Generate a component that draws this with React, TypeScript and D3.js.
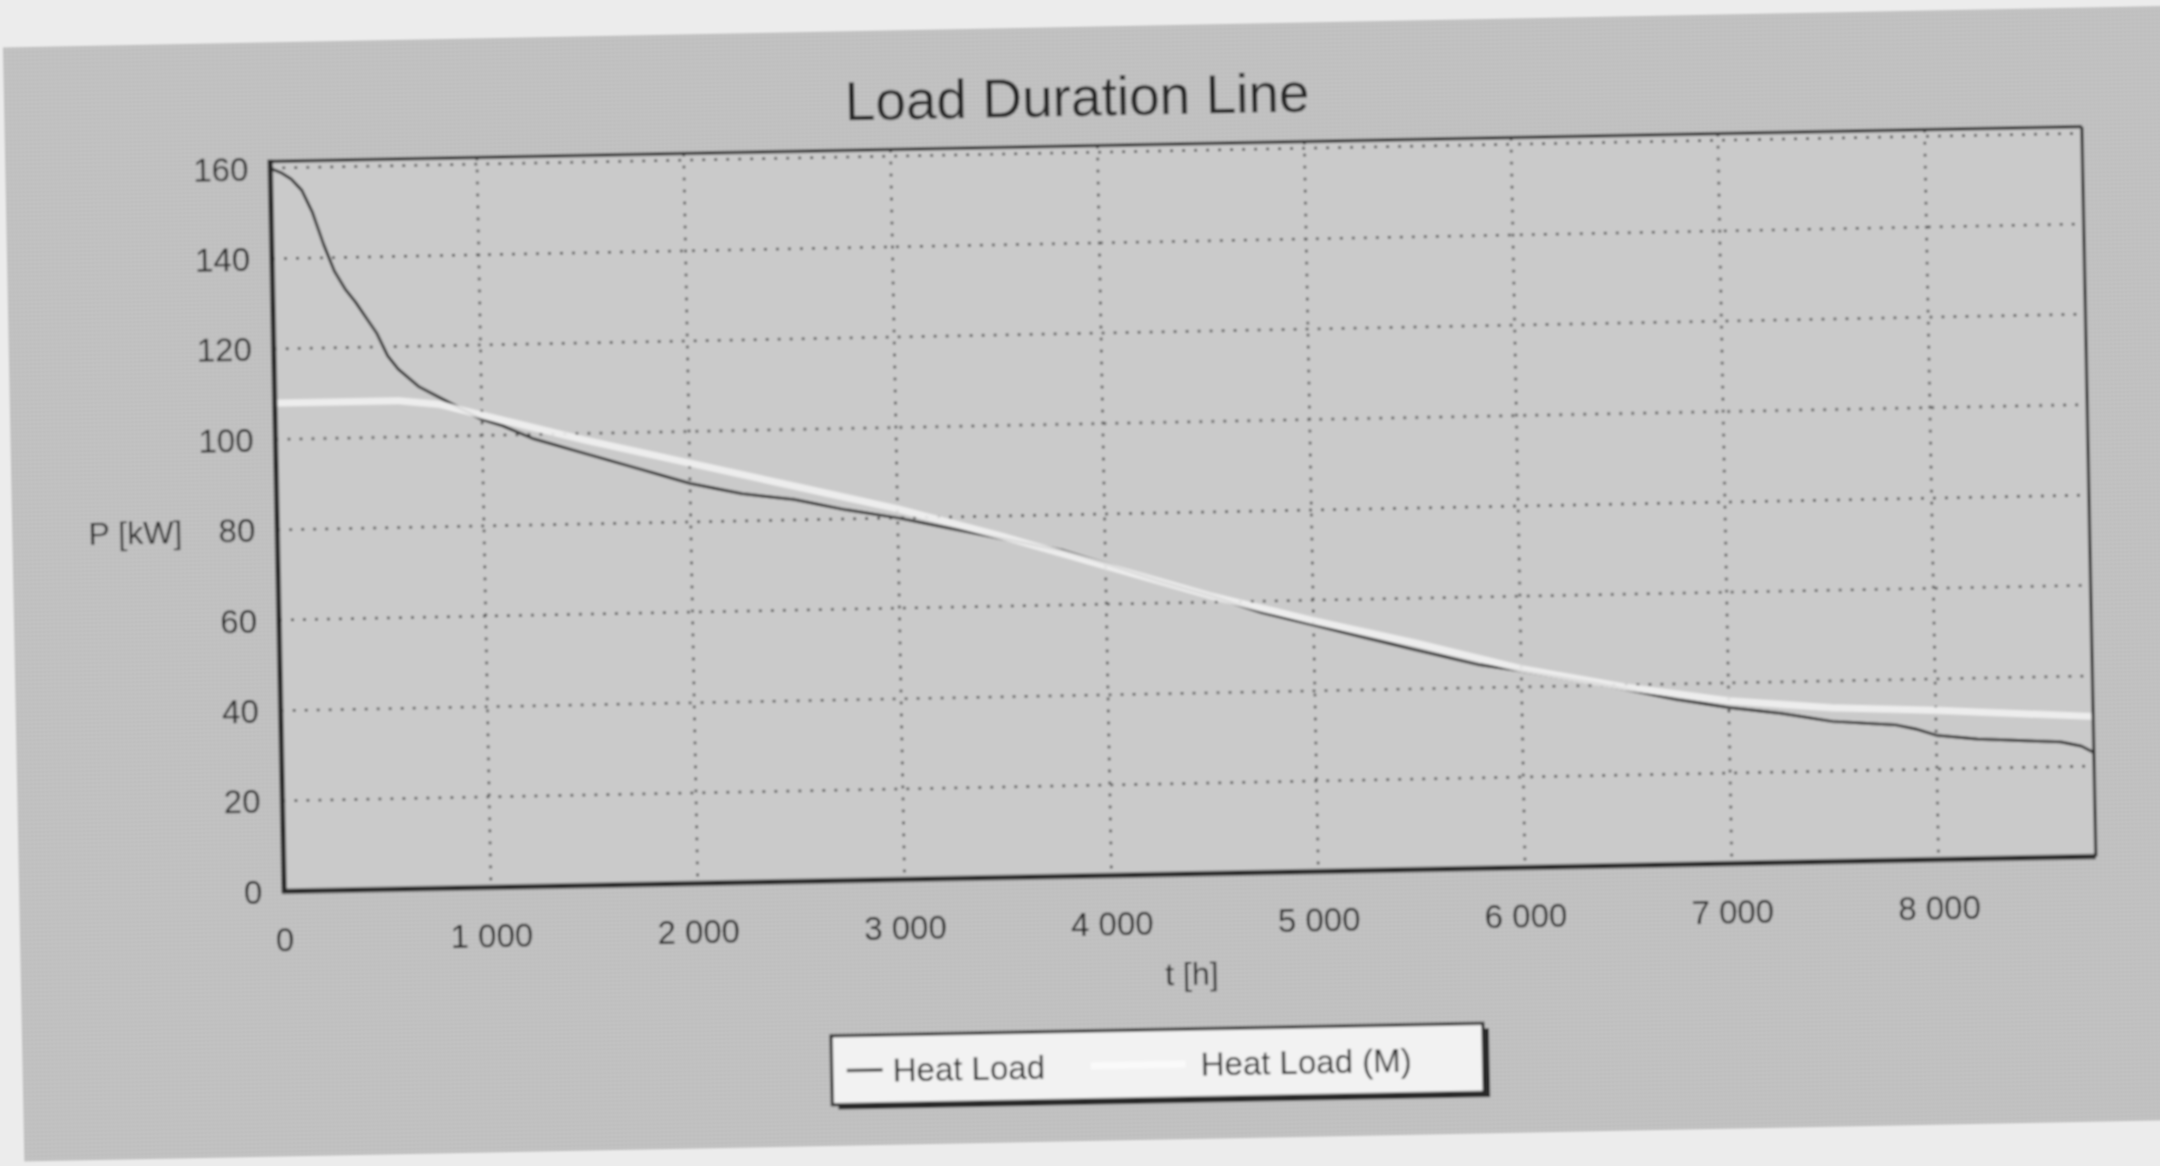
import React from 'react';
import * as d3 from 'd3';

// Heat load, sorted (duration line)
const loadHours = [0, 50, 100, 150, 200, 250, 300, 350, 400, 450, 500, 550, 600, 700, 800, 900, 1000, 1100, 1250, 1500, 1750, 2000, 2250, 2500, 2750, 3000, 3250, 3500, 3800, 4000, 4250, 4500, 4750, 5000, 5250, 5500, 5800, 6000, 6350, 6500, 6750, 7000, 7250, 7500, 7800, 7900, 8000, 8200, 8400, 8600, 8700, 8760];
const heatLoad = [160, 159, 157.5, 155, 150, 143, 137, 133, 130, 126.5, 123, 118, 115, 111, 108.5, 106, 103.5, 102, 99, 95.5, 92, 88.5, 86, 84.5, 82, 80, 77.5, 75, 72, 69, 65, 61.5, 57.5, 54.5, 51.5, 48.5, 45, 43.5, 40.5, 39, 36.5, 34.5, 33, 31, 30, 29, 27.5, 26.5, 26, 25.5, 24.5, 23];

// modelled heat load (M)
const modelHours = [0, 600, 800, 1000, 1500, 2000, 2500, 3000, 3500, 4000, 4500, 5000, 5500, 6000, 6500, 7000, 7500, 8000, 8760];
const modelLoad = [108, 108, 107, 104.5, 98.5, 93, 87.5, 82, 75.5, 68.5, 61.5, 55.5, 50, 44, 39.5, 36, 34, 33, 31];

const xTicks = [0, 1000, 2000, 3000, 4000, 5000, 6000, 7000, 8000];
const yTicks = [0, 20, 40, 60, 80, 100, 120, 140, 160];
const seriesNames = ['Heat Load', 'Heat Load (M)'];

const W = 2160, H = 1166;
const plot = { left: 277, right: 2089, top: 144, bottom: 874 };
const fmt = d3.formatLocale({ decimal: '.', thousands: ' ', grouping: [3], currency: ['', ''] }).format(',');

const App = () => {
    const x = d3.scaleLinear().domain([0, 8760]).range([plot.left, plot.right]);
    const y = d3.scaleLinear().domain([0, 161.5]).range([plot.bottom, plot.top]);
    const line = d3.line<[number, number]>().x(d => x(d[0])).y(d => y(d[1]));
    const loadPts = loadHours.map((h, i) => [h, heatLoad[i]] as [number, number]);
    const modelPts = modelHours.map((h, i) => [h, modelLoad[i]] as [number, number]);
    const ink = '#252525';
    const font = '"Liberation Sans", Arial, sans-serif';

    return (
        <svg width={W} height={H} style={{ position: 'absolute', left: 0, top: 0 }} fontFamily={font}>
            <defs>
                <pattern id="dots" width="4" height="4" patternUnits="userSpaceOnUse">
                    <circle cx="2" cy="2" r="1" fill="#000" opacity="0.1" />
                </pattern>
                <filter id="soft">
                    <feGaussianBlur stdDeviation="0.8" />
                </filter>
            </defs>
            <rect width={W} height={H} fill="#ececec" />
            <g transform={`rotate(-1.1, 1183, 509)`} filter="url(#soft)">
                <rect x={12} y={25} width={2200} height={1114} fill="#c4c4c4" />
                <rect x={12} y={25} width={2200} height={1114} fill="url(#dots)" />
                <rect x={plot.left} y={plot.top} width={plot.right - plot.left} height={plot.bottom - plot.top} fill="#cacaca" />

                {/* grid */}
                {yTicks.filter(t => t > 0).map(t =>
                    <line key={'gy' + t} x1={plot.left} x2={plot.right} y1={y(t)} y2={y(t)} stroke="#4a4a4a" strokeWidth={2.5} strokeDasharray="3 9" />
                )}
                {xTicks.filter(t => t > 0).map(t =>
                    <line key={'gx' + t} x1={x(t)} x2={x(t)} y1={plot.top} y2={plot.bottom} stroke="#4a4a4a" strokeWidth={2.5} strokeDasharray="3 9" />
                )}

                {/* series */}
                <path d={line(loadPts) ?? ''} fill="none" stroke="#303030" strokeWidth={3} strokeLinejoin="round" />
                <path d={line(modelPts) ?? ''} fill="none" stroke="#f1f1f1" strokeWidth={7} strokeLinejoin="round" opacity={0.9} />

                {/* frame */}
                <line x1={plot.left} x2={plot.right} y1={plot.top} y2={plot.top} stroke={ink} strokeWidth={3} />
                <line x1={plot.right} x2={plot.right} y1={plot.top} y2={plot.bottom} stroke={ink} strokeWidth={3} />
                <line x1={plot.left} x2={plot.left} y1={plot.top - 2} y2={plot.bottom + 2} stroke={ink} strokeWidth={5} />
                <line x1={plot.left - 2} x2={plot.right} y1={plot.bottom} y2={plot.bottom} stroke={ink} strokeWidth={5} />

                {/* ticks */}
                {yTicks.map(t =>
                    <text key={'ty' + t} x={plot.left - 22} y={y(t)} dy="0.36em" textAnchor="end" fontSize={33} fill={ink}>{t}</text>
                )}
                {xTicks.map(t =>
                    <text key={'tx' + t} x={x(t)} y={plot.bottom + 60} textAnchor="middle" fontSize={33} fill={ink}>{fmt(t)}</text>
                )}

                <text x={182} y={y(80)} dy="0.36em" textAnchor="end" fontSize={32} fill={ink}>P [kW]</text>
                <text x={(plot.left + plot.right) / 2} y={plot.bottom + 111} textAnchor="middle" fontSize={32} fill={ink}>t [h]</text>
                <text x={1085} y={114} textAnchor="middle" fontSize={55} fill={ink}>Load Duration Line</text>

                {/* legend */}
                <g>
                    <rect x={827} y={1034} width={652} height={69} fill="#2a2a2a" />
                    <rect x={821} y={1029} width={652} height={69} fill="#f2f2f2" stroke={ink} strokeWidth={3} />
                    <line x1={836} x2={872} y1={1064} y2={1064} stroke="#333" strokeWidth={3} />
                    <text x={882} y={1076} fontSize={33} fill={ink}>{seriesNames[0]}</text>
                    <line x1={1080} x2={1175} y1={1064} y2={1064} stroke="#fafafa" strokeWidth={7} />
                    <text x={1190} y={1076} fontSize={33} fill={ink}>{seriesNames[1]}</text>
                </g>
            </g>
        </svg>
    );
};

export default App;
